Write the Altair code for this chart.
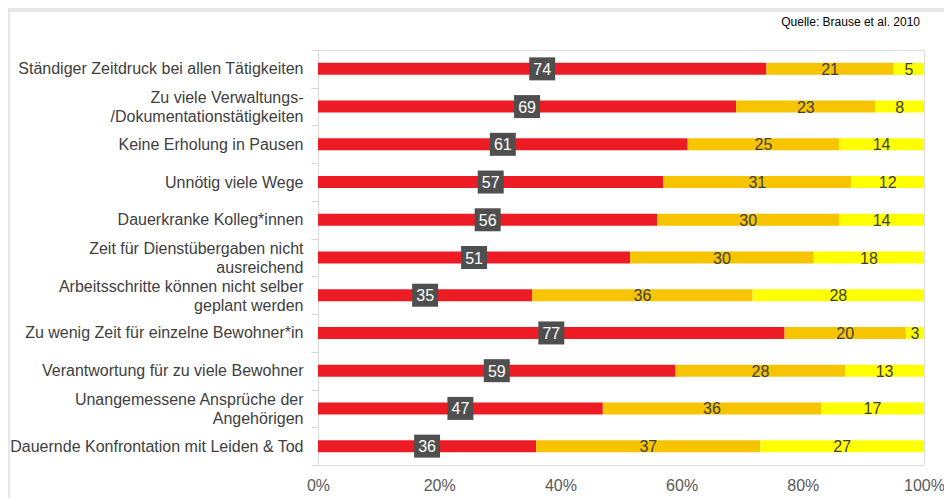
import altair as alt
import pandas as pd

categories = [
    "Ständiger Zeitdruck bei allen Tätigkeiten",
    "Zu viele Verwaltungs-\n/Dokumentationstätigkeiten",
    "Keine Erholung in Pausen",
    "Unnötig viele Wege",
    "Dauerkranke Kolleg*innen",
    "Zeit für Dienstübergaben nicht\nausreichend",
    "Arbeitsschritte können nicht selber\ngeplant werden",
    "Zu wenig Zeit für einzelne Bewohner*in",
    "Verantwortung für zu viele Bewohner",
    "Unangemessene Ansprüche der\nAngehörigen",
    "Dauernde Konfrontation mit Leiden & Tod",
]
red_values = [74, 69, 61, 57, 56, 51, 35, 77, 59, 47, 36]
orange_values = [21, 23, 25, 31, 30, 30, 36, 20, 28, 36, 37]
yellow_values = [5, 8, 14, 12, 14, 18, 28, 3, 13, 17, 27]
series_names = ["rot", "orange", "gelb"]
series_colors = ["#ED1C24", "#F6C400", "#FFFF00"]
tick_values = [0, 0.2, 0.4, 0.6, 0.8, 1.0]
source_text = "Quelle: Brause et al. 2010"

rows = []
for i, c in enumerate(categories):
    for j, vals in enumerate([red_values, orange_values, yellow_values]):
        rows.append({"cat": c, "series": series_names[j], "order": j, "value": vals[i]})
df = pd.DataFrame(rows)

FONT = "Liberation Sans"

base = (
    alt.Chart(df)
    .transform_joinaggregate(total="sum(value)", groupby=["cat"])
    .transform_window(
        cum="sum(value)", sort=[alt.SortField("order")], groupby=["cat"], frame=[None, 0]
    )
    .transform_calculate(
        start="(datum.cum - datum.value) / datum.total",
        end="datum.cum / datum.total",
        mid="(datum.cum - datum.value / 2) / datum.total",
    )
)

y_enc = alt.Y(
    "cat:N",
    sort=categories,
    scale=alt.Scale(paddingInner=0, paddingOuter=0),
    axis=alt.Axis(
        title=None,
        labelExpr="split(datum.label, '\\n')",
        labelOffset=alt.condition(
            "indexof(datum.label, '\\n') >= 0", alt.value(-9), alt.value(0)
        ),
        labelFont=FONT,
        labelFontSize=16,
        labelColor="#404040",
        labelLimit=0,
        labelLineHeight=19,
        labelPadding=8,
        tickBand="extent",
        tickSize=7,
        tickColor="#D9D9D9",
        domainColor="#D9D9D9",
        grid=False,
    ),
)

x_scale = alt.Scale(domain=[0, 1])

bars = base.mark_bar(size=12).encode(
    y=y_enc,
    x=alt.X(
        "start:Q",
        scale=x_scale,
        axis=alt.Axis(
            title=None,
            values=tick_values,
            format="%",
            domain=False,
            ticks=False,
            grid=False,
            labelFlush=False,
            labelFont=FONT,
            labelFontSize=16,
            labelColor="#595959",
            labelPadding=12,
        ),
    ),
    x2="end:Q",
    color=alt.Color(
        "series:N",
        scale=alt.Scale(domain=series_names, range=series_colors),
        legend=None,
    ),
)

boxes = (
    base.transform_filter("datum.series == 'rot'")
    .mark_point(
        shape="M-1.13,-1H1.13V1H-1.13Z",
        size=529,
        filled=True,
        color="#4F4F4F",
        opacity=1,
        strokeWidth=0,
    )
    .encode(y=alt.Y("cat:N", sort=categories), x=alt.X("mid:Q", scale=x_scale))
)

red_labels = (
    base.transform_filter("datum.series == 'rot'")
    .mark_text(font=FONT, fontSize=16, color="white", baseline="middle", dy=1)
    .encode(y=alt.Y("cat:N", sort=categories), x=alt.X("mid:Q", scale=x_scale), text="value:Q")
)

other_labels = (
    base.transform_filter("datum.series != 'rot'")
    .mark_text(font=FONT, fontSize=16, color="#404040", baseline="middle", dy=1)
    .encode(y=alt.Y("cat:N", sort=categories), x=alt.X("mid:Q", scale=x_scale), text="value:Q")
)

dummy = pd.DataFrame({"a": [0]})
frame_top = alt.Chart(dummy).mark_rule(color="#E6E6E6", strokeWidth=4).encode(
    x=alt.value(-310), x2=alt.value(640), y=alt.value(-40)
)
frame_left = alt.Chart(dummy).mark_rule(color="#E6E6E6", strokeWidth=2).encode(
    x=alt.value(-309), y=alt.value(-42), y2=alt.value(450)
)
source = alt.Chart(dummy).mark_text(
    font=FONT, fontSize=12, color="#000000", align="right", baseline="middle"
).encode(x=alt.value(602), y=alt.value(-28), text=alt.value(source_text))

chart = (
    alt.layer(frame_top, frame_left, bars, boxes, red_labels, other_labels, source)
    .properties(
        width=606,
        height=415,
        autosize=alt.AutoSizeParams(type="none"),
        padding={"left": 310, "top": 42, "right": 20, "bottom": 33},
    )
    .configure_view(stroke=None)
    .configure(background="white")
)

chart.save("out.html", embed_options={"renderer": "svg", "actions": False})
